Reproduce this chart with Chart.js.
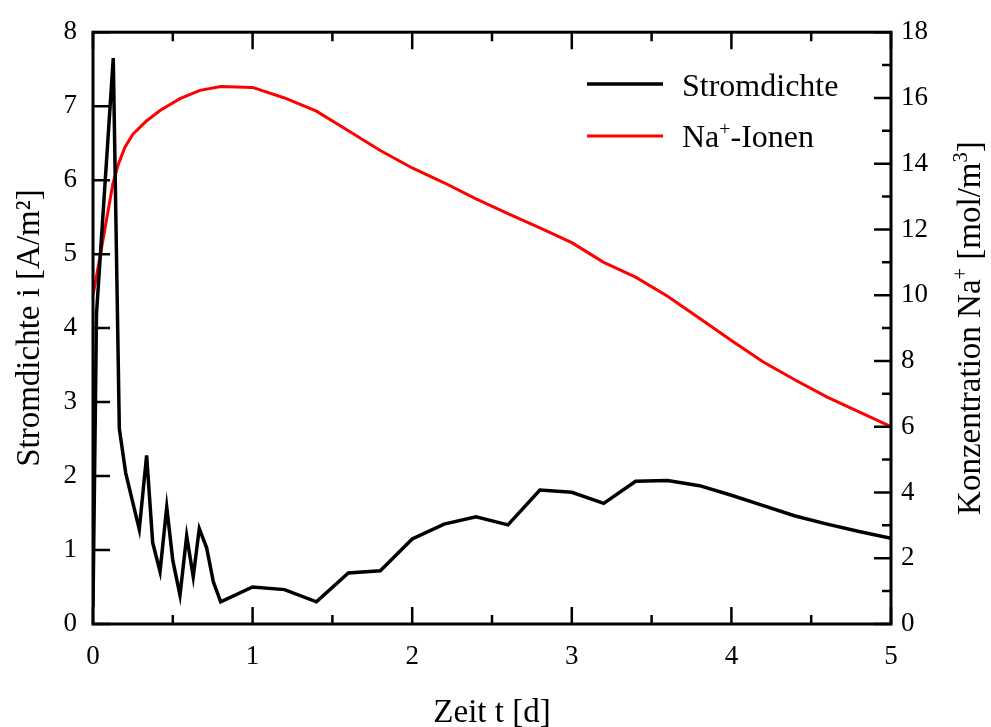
<!DOCTYPE html>
<html>
<head>
<meta charset="utf-8">
<script src="https://cdn.jsdelivr.net/npm/chart.js@4/dist/chart.umd.min.js"></script>
<style>
    html, body { margin: 0; padding: 0; background: #fff; }
    #wrap { width: 991px; height: 727px; }
</style>
</head>
<body>
<div id="wrap"><canvas id="chart"></canvas></div>
<script>
// Stromdichte (linke Achse)
const tStrom = [0, 0.022, 0.127, 0.165, 0.205, 0.29, 0.336, 0.374, 0.42, 0.462, 0.5, 0.545, 0.587, 0.628, 0.666, 0.712, 0.754, 0.8,
    1.0, 1.2, 1.4, 1.6, 1.8, 2.0, 2.2, 2.4, 2.6, 2.8, 3.0, 3.2, 3.4, 3.6, 3.8, 4.0, 4.2, 4.4, 4.6, 4.8, 5.0];
const stromdichte = [0.23, 4.2, 7.65, 2.64, 2.04, 1.28, 2.28, 1.10, 0.71, 1.58, 0.86, 0.39, 1.19, 0.64, 1.29, 1.03, 0.57, 0.30,
    0.50, 0.465, 0.30, 0.69, 0.72, 1.15, 1.35, 1.45, 1.34, 1.81, 1.78, 1.63, 1.93, 1.94, 1.87, 1.74, 1.60, 1.46, 1.35, 1.25, 1.16];

// Na+-Konzentration (rechte Achse)
const tNa = [0, 0.045, 0.085, 0.125, 0.16, 0.2, 0.25, 0.335, 0.42, 0.545, 0.67, 0.8, 1.0, 1.2, 1.4, 1.6, 1.8, 2.0,
    2.2, 2.4, 2.6, 2.8, 3.0, 3.2, 3.4, 3.6, 3.8, 4.0, 4.2, 4.4, 4.6, 4.8, 5.0];
const natrium = [10.0, 11.2, 12.3, 13.4, 14.0, 14.5, 14.9, 15.3, 15.62, 15.98, 16.23, 16.35, 16.32, 16.0, 15.6, 15.0, 14.4, 13.87,
    13.42, 12.93, 12.48, 12.05, 11.6, 11.0, 10.55, 9.97, 9.3, 8.62, 7.97, 7.42, 6.9, 6.45, 6.0];

// Achsen-Ticks
const xTicks = [0, 0.5, 1, 1.5, 2, 2.5, 3, 3.5, 4, 4.5, 5];
const yLeftTicks = [0, 1, 2, 3, 4, 5, 6, 7, 8];
const yRightTicks = [0, 1, 2, 3, 4, 5, 6, 7, 8, 9, 10, 11, 12, 13, 14, 15, 16, 17, 18];

const FONT = '"Liberation Serif", "Times New Roman", serif';

// Text mit Hochstellung zeichnen: parts = [[text, sup], ...]
function partsWidth(ctx, parts, size) {
    let w = 0;
    parts.forEach(p => {
        ctx.font = (p[1] ? size * 0.62 : size) + 'px ' + FONT;
        w += ctx.measureText(p[0]).width;
    });
    return w;
}
function drawParts(ctx, parts, x, y, size) {
    let cx = x;
    parts.forEach(p => {
        ctx.font = (p[1] ? size * 0.62 : size) + 'px ' + FONT;
        ctx.fillText(p[0], cx, p[1] ? y - size * 0.38 : y);
        cx += ctx.measureText(p[0]).width;
    });
}

const framePlugin = {
    id: 'framePlugin',
    afterDatasetsDraw(chart) {
        const { ctx, chartArea: a, scales } = chart;
        ctx.save();
        ctx.strokeStyle = '#000';
        ctx.lineWidth = 2.5;
        ctx.beginPath();
        xTicks.forEach(v => {
            const px = scales.x.getPixelForValue(v);
            const len = v % 1 === 0 ? 17 : 9;
            ctx.moveTo(px, a.bottom); ctx.lineTo(px, a.bottom - len);
            ctx.moveTo(px, a.top); ctx.lineTo(px, a.top + len);
        });
        yLeftTicks.forEach(v => {
            const py = scales.y.getPixelForValue(v);
            ctx.moveTo(a.left, py); ctx.lineTo(a.left + 17, py);
        });
        yRightTicks.forEach(v => {
            const py = scales.y1.getPixelForValue(v);
            const len = v % 2 === 0 ? 17 : 9;
            ctx.moveTo(a.right, py); ctx.lineTo(a.right - len, py);
        });
        ctx.stroke();

        ctx.lineWidth = 3;
        ctx.strokeRect(a.left, a.top, a.right - a.left, a.bottom - a.top);

        // Legende
        ctx.lineWidth = 3.5;
        ctx.strokeStyle = '#000';
        ctx.beginPath(); ctx.moveTo(587, 84); ctx.lineTo(663, 84); ctx.stroke();
        ctx.strokeStyle = '#ff0000';
        ctx.lineWidth = 3;
        ctx.beginPath(); ctx.moveTo(587, 136); ctx.lineTo(663, 136); ctx.stroke();
        ctx.fillStyle = '#000';
        ctx.textBaseline = 'alphabetic';
        ctx.textAlign = 'left';
        drawParts(ctx, [['Stromdichte', false]], 682, 96, 32);
        drawParts(ctx, [['Na', false], ['+', true], ['-Ionen', false]], 682, 147, 32);

        // rechter Achsentitel
        const parts = [['Konzentration Na', false], ['+', true], [' [mol/m', false], ['3', true], [']', false]];
        const w = partsWidth(ctx, parts, 33);
        ctx.translate(980, (a.top + a.bottom) / 2);
        ctx.rotate(-Math.PI / 2);
        drawParts(ctx, parts, -w / 2, 0, 33);
        ctx.restore();
    }
};

new Chart(document.getElementById('chart'), {
    type: 'line',
    data: {
        datasets: [{
            label: 'Stromdichte',
            data: tStrom.map((t, i) => ({ x: t, y: stromdichte[i] })),
            borderColor: '#000',
            borderWidth: 3.5,
            pointRadius: 0,
            tension: 0,
            yAxisID: 'y'
        }, {
            label: 'Na+-Ionen',
            data: tNa.map((t, i) => ({ x: t, y: natrium[i] })),
            borderColor: '#ff0000',
            borderWidth: 3,
            pointRadius: 0,
            tension: 0,
            yAxisID: 'y1'
        }]
    },
    options: {
        responsive: true,
        maintainAspectRatio: false,
        animation: false,
        layout: { padding: { top: 27, left: 0, right: 0, bottom: 0 } },
        plugins: {
            legend: { display: false },
            tooltip: { enabled: false }
        },
        scales: {
            x: {
                type: 'linear',
                position: 'bottom',
                min: 0,
                max: 5,
                ticks: { stepSize: 1, padding: 17, color: '#000', font: { family: FONT, size: 27 } },
                grid: { display: false, drawTicks: false },
                border: { display: false },
                title: {
                    display: true,
                    text: 'Zeit t [d]',
                    color: '#000',
                    font: { family: FONT, size: 33, lineHeight: 0.8 },
                    padding: { top: 0, bottom: 0 }
                },
                afterFit: s => { s.height = 103; }
            },
            y: {
                position: 'left',
                min: 0,
                max: 8,
                ticks: { stepSize: 1, padding: 16, color: '#000', font: { family: FONT, size: 27 } },
                grid: { display: false, drawTicks: false },
                border: { display: false },
                title: {
                    display: true,
                    text: 'Stromdichte i [A/m²]',
                    color: '#000',
                    font: { family: FONT, size: 33, lineHeight: 1 },
                    padding: { top: 14, bottom: 0 }
                },
                afterFit: s => { s.width = 93; }
            },
            y1: {
                position: 'right',
                min: 0,
                max: 18,
                ticks: { stepSize: 2, padding: 10, color: '#000', font: { family: FONT, size: 27 } },
                grid: { display: false, drawTicks: false },
                border: { display: false },
                afterFit: s => { s.width = 100; }
            }
        }
    },
    plugins: [framePlugin]
});
</script>
</body>
</html>
